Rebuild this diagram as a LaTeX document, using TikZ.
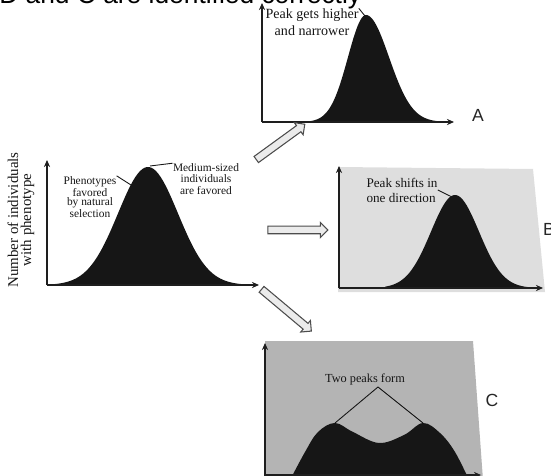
\documentclass[tikz,border=0pt]{standalone}
\usepackage{fontspec}
\setmainfont{Liberation Serif}
\newfontfamily\capfont{Liberation Sans}
\usetikzlibrary{arrows.meta, shapes.arrows}
\definecolor{cink}{HTML}{161616}
\definecolor{cpaleB}{HTML}{DEDEDE}
\definecolor{cpaleC}{HTML}{B4B4B4}
\definecolor{caxis}{HTML}{1E1E1E}
\tikzset{
  axis/.style={draw=caxis, line width=0.75pt, -{Stealth[length=4pt, width=3.5pt]}},
  hump/.style={fill=cink, draw=none},
  lbl/.style={font=\fontsize{6.5}{#1}\selectfont, align=center, inner sep=0pt, text=cink},
  lbl/.default=6.5,
  tag/.style={font=\capfont\fontsize{10}{10}\selectfont, inner sep=0pt, text=black!85},
  hollow/.style={single arrow, draw=black!70, fill=black!8, line width=0.6pt, inner sep=0.065cm,
    minimum height=1.2cm, single arrow head extend=0.075cm},
  leader/.style={draw=cink, line width=0.5pt},
}

\begin{document}
\begin{tikzpicture}[x=0.02cm, y=-0.02cm]
  \useasboundingbox (0,0) rectangle (551,476);
  % caption cut off at the top
  \node[font=\capfont\fontsize{15}{15}\selectfont, anchor=base west, inner sep=0pt] (caption) at (-1,4) {D and C are identified correctly};
  % shaded backgrounds of B and C
  \fill[cpaleB] (338,167) -- (533,169) -- (545,292) -- (338,292) -- cycle;
  \fill[cpaleC] (265,341) -- (473,341) -- (483,480) -- (265,480) -- cycle;
  % starting population
  \fill[hump] (55,285) -- plot[domain=55:241, samples=80] (\x, {285-118*exp(-((\x-148)^2)/1800)}) -- (241,285) -- cycle;
  \draw[axis] (47,285) -- (47,160);
  \draw[axis] (47,285) -- (259,285);
  \node[rotate=90, font=\fontsize{8.5}{7.5}\selectfont, align=center, inner sep=0pt, text=cink] (ylab) at (21,220) {Number of individuals\\with phenotype};
  \node[lbl=5.2] (phen) at (90,197) {Phenotypes\\favored\\by natural\\selection};
  \node[lbl] (medium) at (206,179) {Medium-sized\\individuals\\are favored};
  \coordinate (sideM) at (131,185);
  \coordinate (topM) at (150,166);
  \draw[leader] (phen.north east) -- (sideM);
  \draw[leader] (medium.north west) -- (topM);
  % A: higher and narrower
  \fill[hump] (310,122) -- plot[domain=310:366, samples=40] (\x, {122-107*exp(-((\x-366)^2)/648)})
    -- plot[domain=366:440, samples=50] (\x, {122-107*exp(-((\x-366)^2)/1058)}) -- (440,122) -- cycle;
  \draw[axis] (262,122) -- (262,3);
  \draw[axis] (262,122) -- (454,122);
  \node[font=\fontsize{8}{9.5}\selectfont, align=center, inner sep=0pt, text=cink] (gainA) at (312,22) {Peak gets higher\\and narrower};
  \coordinate (topA) at (365,16);
  \draw[leader] (gainA.north east) -- (topA);
  \node[tag] (tagA) at (478,115) {A};
  % B: shifted peak
  \fill[hump] (385,288) -- plot[domain=385:530, samples=70] (\x, {288-93*exp(-((\x-455)^2)/1152)}) -- (530,288) -- cycle;
  \draw[axis] (339,288) -- (339,166);
  \draw[axis] (339,288) -- (543,288);
  \node[font=\fontsize{7.5}{8.5}\selectfont, align=left, inner sep=0pt, text=cink] (peakB) at (402,190) {Peak shifts in\\one direction};
  \coordinate (sideB) at (452,197);
  \draw[leader] (peakB.east) -- (sideB);
  \node[tag] (tagB) at (549,229) {B};
  % C: two peaks
  \fill[hump] plot[smooth, tension=0.6] coordinates {(289,482) (305,452) (318,432) (335,423) (353,432) (379,443) (404,435) (423,423) (440,433) (455,452) (470,482)} -- cycle;
  \draw[axis] (265,478) -- (265,343);
  \draw[axis] (265,475) -- (481,475);
  \node[font=\fontsize{7}{8}\selectfont, inner sep=0pt, text=cink] (twoC) at (365,379) {Two peaks form};
  \coordinate (apexC) at (378,387);
  \coordinate (leftC) at (335,423);
  \coordinate (rightC) at (423,423);
  \draw[leader] (leftC) -- (apexC) -- (rightC);
  \node[tag] (tagC) at (492,400) {C};
  % hollow arrows to the three outcomes
  \node[hollow, rotate=36] (toA) at (279,143) {};
  \node[hollow] (toB) at (296,230) {};
  \node[hollow, rotate=-40, minimum height=1.3cm] (toC) at (285,309) {};
\end{tikzpicture}
\end{document}
